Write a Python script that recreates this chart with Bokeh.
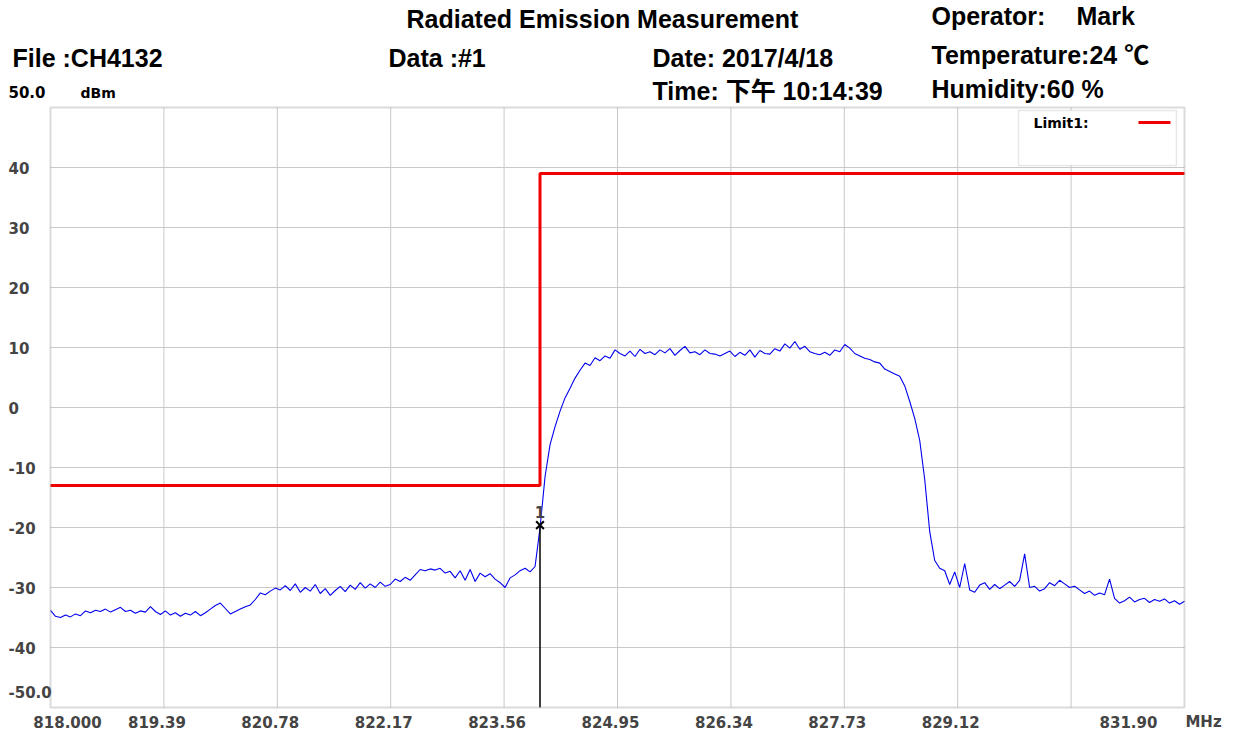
from bokeh.plotting import figure
from bokeh.models import (Range1d, Label, LabelSet, ColumnDataSource, BoxAnnotation, Arrow)
from bokeh.core.properties import value
from bokeh.embed import file_html
from bokeh.resources import INLINE
import numpy as np

# ---------------- data ----------------
FREQ_START = 818.000
FREQ_STOP = 831.90
Y_MIN, Y_MAX = -50.0, 50.0

trace_level = [
    -33.8, -34.8, -35.0, -34.6, -34.9, -34.4, -34.7, -33.9, -34.2, -33.8,
    -34.0, -33.6, -34.1, -33.7, -33.3, -34.0, -33.8, -34.3, -33.9, -34.1,
    -33.2, -34.0, -34.5, -33.9, -34.6, -34.2, -34.8, -34.3, -34.6, -34.0,
    -34.7, -34.2, -33.6, -33.0, -32.6, -33.5, -34.4,
    -34.0, -33.6, -33.2, -32.9, -32.0, -30.9, -31.2, -30.6, -30.1, -30.4,
    -29.7, -30.5, -29.4, -30.8, -30.0, -30.6, -29.5, -31.0, -30.2, -31.3,
    -30.5, -29.8, -30.7, -29.6, -30.3, -29.2, -30.1, -29.4, -30.0, -29.1,
    -29.8, -29.5, -28.6, -29.0, -28.3, -28.8, -27.9, -27.0, -27.2, -26.9,
    -27.1, -26.8, -27.6, -27.3, -28.4, -27.2, -28.8, -27.0, -29.0, -27.6,
    -28.2, -27.7, -28.6, -29.2, -30.0, -28.4, -27.9, -27.2, -26.8, -27.4,
    -26.5,
    -20.0, -11.5, -6.2, -3.2, -0.6, 1.6, 3.2, 4.9, 6.2, 7.4, 7.0, 8.3, 7.8, 8.6, 8.2,
    9.6, 9.0, 8.6, 9.4, 8.5, 9.7, 9.0, 9.3, 8.8, 9.6,
    9.1, 9.8, 8.7, 9.5, 10.2, 9.1, 9.3, 8.8, 9.6, 9.0,
    8.9, 8.6, 9.0, 9.4, 8.5, 9.2, 8.7, 9.6, 8.4, 9.5,
    9.0, 8.9, 9.8, 9.4, 10.6, 9.9, 11.0, 9.7, 10.2, 9.3,
    9.0, 8.8, 9.2, 8.7, 9.6, 9.3, 10.5, 9.9, 9.0, 8.6,
    8.2, 8.0, 7.6, 7.4, 6.4, 6.0, 5.6, 5.2, 3.6,
    1.0, -1.8, -5.5, -12.0, -20.7, -25.5, -26.8, -27.2, -29.5, -27.4,
    -30.0, -26.0, -30.4, -30.8, -29.6, -29.2, -30.3, -29.5, -30.2, -29.6,
    -29.0, -29.8, -28.8, -24.4, -30.0, -29.8, -30.6, -30.2, -29.2, -29.7,
    -28.8, -29.4, -30.0, -29.8, -30.4, -31.0, -30.6, -31.3, -30.9, -31.2,
    -28.6, -31.8, -32.6, -32.2, -31.6, -32.4, -32.0, -31.8, -32.5, -32.0,
    -32.3, -31.9, -32.6, -32.2, -32.8, -32.3,
]
# uniformly spaced sweep points between start and stop frequency
trace_freq = np.linspace(FREQ_START, FREQ_STOP, len(trace_level))

limit_freq = [818.000, 824.00, 824.00, 831.90]
limit_level = [-13.0, -13.0, 39.0, 39.0]

marker_freq = [824.00]
marker_level = [-19.6]
marker_name = ["1"]

x_grid = [819.39, 820.78, 822.17, 823.56, 824.95, 826.34, 827.73, 829.12, 830.51]
x_mid_ticks = [819.39, 820.78, 822.17, 823.56, 824.95, 826.34, 827.73, 829.12]
x_mid_labels = ["819.39", "820.78", "822.17", "823.56", "824.95", "826.34", "827.73", "829.12"]
y_grid = [-40, -30, -20, -10, 0, 10, 20, 30, 40]
y_mid_ticks = [40, 30, 20, 10, 0, -10, -20, -30, -40]
y_mid_labels = ["40", "30", "20", "10", "0", "-10", "-20", "-30", "-40"]

# ---------------- layout constants (pixels) ----------------
W, H = 1235, 733
PL, PR, PT, PB = 50, 1184, 107, 707          # chart box inside the canvas
kx = (FREQ_STOP - FREQ_START) / (PR - PL)
ky = (Y_MAX - Y_MIN) / (PB - PT)

FONT_H = "Liberation Sans, Arial, Noto Sans CJK SC"
FONT_T = "DejaVu Sans"

p = figure(width=W, height=H,
           x_range=Range1d(FREQ_START - PL * kx, FREQ_STOP + (W - PR) * kx),
           y_range=Range1d(Y_MIN - (H - PB) * ky, Y_MAX + PT * ky),
           x_axis_location=None, y_axis_location=None,
           toolbar_location=None, output_backend="svg",
           min_border=0, min_border_left=0, min_border_right=0,
           min_border_top=0, min_border_bottom=0)
p.grid.visible = False
p.outline_line_color = None
p.background_fill_color = "white"
p.border_fill_color = "white"

# grid lines inside the chart box
p.segment(x0=x_grid, y0=[Y_MIN] * len(x_grid), x1=x_grid, y1=[Y_MAX] * len(x_grid),
          line_color="#c9c9c9", line_width=1)
p.segment(x0=[FREQ_START] * len(y_grid), y0=y_grid, x1=[FREQ_STOP] * len(y_grid), y1=y_grid,
          line_color="#c9c9c9", line_width=1)

# trace, limit, marker
p.line(trace_freq, trace_level, line_color="#0000ee", line_width=1.1)
p.line(limit_freq, limit_level, line_color="#f00000", line_width=3)
p.segment(x0=marker_freq, y0=marker_level, x1=marker_freq, y1=[Y_MIN] * len(marker_freq),
          line_color="black", line_width=1.5)
p.scatter(marker_freq, marker_level, marker="x", size=11, line_color="black", line_width=2)
msrc = ColumnDataSource(dict(x=marker_freq, y=marker_level, t=marker_name))
p.add_layout(LabelSet(source=msrc, x="x", y="y", text="t", y_offset=13,
                      text_align="center", text_baseline="middle",
                      text_font=value(FONT_T), text_font_style="bold", text_font_size="15px"))

# chart box outline
p.add_layout(BoxAnnotation(left=FREQ_START, right=FREQ_STOP, bottom=Y_MIN, top=Y_MAX,
                           fill_alpha=0, line_color="#888888", line_width=2))

# ---------------- tick labels ----------------
ysrc = ColumnDataSource(dict(y=y_mid_ticks, t=y_mid_labels))
p.add_layout(LabelSet(source=ysrc, x=8, x_units="screen", y="y", text="t",
                      text_align="left", text_baseline="middle",
                      text_font=value(FONT_T), text_font_style="bold", text_font_size="15px"))
p.add_layout(Label(x=8, x_units="screen", y=Y_MIN, y_offset=16, text="-50.0",
                   text_align="left", text_baseline="middle",
                   text_font=FONT_T, text_font_style="bold", text_font_size="15px"))

xsrc = ColumnDataSource(dict(x=x_mid_ticks, t=x_mid_labels))
p.add_layout(LabelSet(source=xsrc, x="x", y=H - 721, y_units="screen", text="t", x_offset=-7,
                      text_align="center", text_baseline="middle",
                      text_font=value(FONT_T), text_font_style="bold", text_font_size="15px"))
p.add_layout(Label(x=FREQ_START, y=H - 721, y_units="screen", x_offset=17, text="818.000",
                   text_align="center", text_baseline="middle",
                   text_font=FONT_T, text_font_style="bold", text_font_size="15px"))
p.add_layout(Label(x=FREQ_STOP, y=H - 721, y_units="screen", x_offset=-56, text="831.90",
                   text_align="center", text_baseline="middle",
                   text_font=FONT_T, text_font_style="bold", text_font_size="15px"))
p.add_layout(Label(x=FREQ_STOP, y=H - 721, y_units="screen", x_offset=19, text="MHz",
                   text_align="center", text_baseline="middle",
                   text_font=FONT_T, text_font_style="bold", text_font_size="15px"))


# ---------------- header texts (canvas pixels) ----------------
def head(text, px, py, size=25, font=FONT_H):
    p.add_layout(Label(x=px, y=H - py, x_units="screen", y_units="screen",
                       text=text, text_align="left", text_baseline="middle",
                       text_font=font, text_font_style="bold",
                       text_font_size=f"{size}px", text_color="black"))


head("Radiated Emission Measurement", 406, 18)
head("Operator:", 931, 15)
head("Mark", 1076, 15)
head("File :CH4132", 12, 57)
head("Data :#1", 388, 57)
head("Date: 2017/4/18", 652, 57)
head("Temperature:24 ℃", 931, 54)
head("Time: 下午 10:14:39", 652, 90)
head("Humidity:60 %", 931, 88)
head("50.0", 8, 91, 15, FONT_T)
head("dBm", 80, 92, 14, FONT_T)

# ---------------- legend ----------------
p.add_layout(BoxAnnotation(left=1018, right=1176, bottom=H - 165, top=H - 110,
                           left_units="screen", right_units="screen",
                           bottom_units="screen", top_units="screen",
                           fill_color="white", fill_alpha=1.0,
                           line_color="#b4b4b4", line_width=1.5))
head("Limit1:", 1033, 122, 14, FONT_T)
p.add_layout(Arrow(end=None, x_start=1138, y_start=H - 122, x_end=1170, y_end=H - 122,
                   start_units="screen", end_units="screen",
                   line_color="#f00000", line_width=3))

open("out.html", "w").write(file_html(p, INLINE))
